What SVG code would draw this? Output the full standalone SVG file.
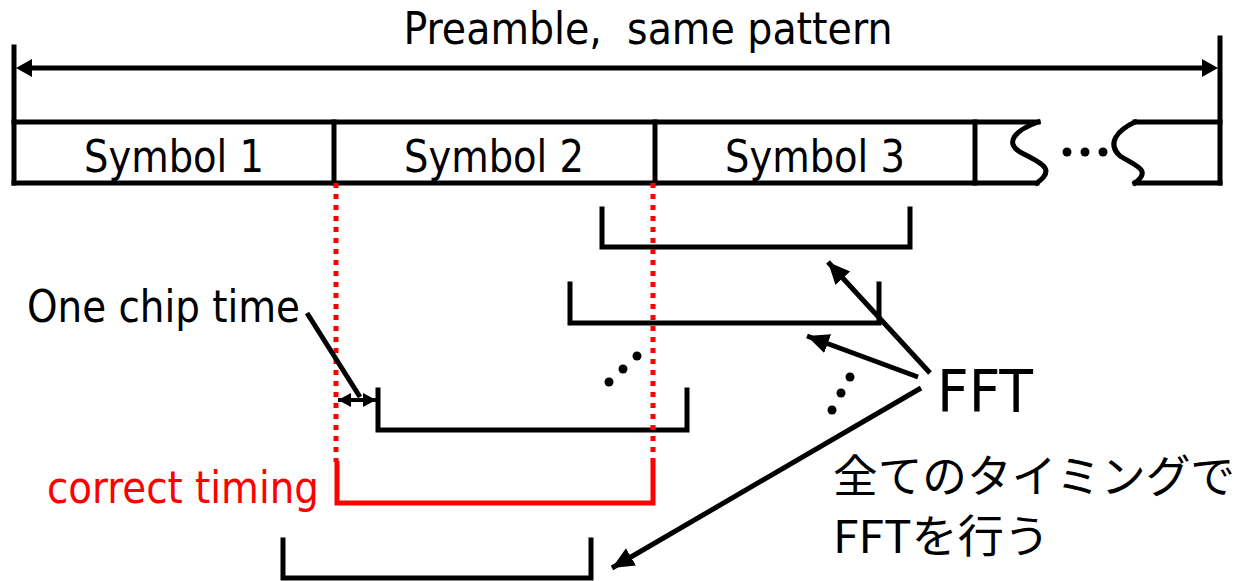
<svg xmlns="http://www.w3.org/2000/svg" width="1247" height="581" viewBox="0 0 1247 581">
  <style>
    .ln { fill: none; stroke: #000; stroke-width: 5; stroke-linecap: square; stroke-linejoin: miter; }
    .red { fill: none; stroke: #ff0000; stroke-width: 5; }
    .dot { fill: none; stroke: #ff0000; stroke-width: 5; stroke-dasharray: 5 6; }
    .txt { font-family: "DejaVu Sans Condensed", "DejaVu Sans", "Noto Sans CJK JP", sans-serif; font-stretch: condensed; fill: #000; }
    .jp { font-family: "Noto Sans CJK JP", "Noto Sans CJK SC", sans-serif; fill: #000; }
  </style>
  <defs>
    <marker id="headBig" markerUnits="userSpaceOnUse" markerWidth="26" markerHeight="22" refX="22" refY="10" orient="auto">
      <path d="M0,0 L22,10 L0,20 Z" fill="#000"/>
    </marker>
    <marker id="headSmall" markerUnits="userSpaceOnUse" markerWidth="16" markerHeight="16" refX="13" refY="7" orient="auto-start-reverse">
      <path d="M0,0 L13,7 L0,14 Z" fill="#000"/>
    </marker>
  </defs>

  <!-- preamble span -->
  <g id="preamble">
    <line class="ln" x1="14" y1="47" x2="14" y2="183" stroke-linecap="butt"/>
    <line class="ln" x1="1220" y1="38" x2="1220" y2="183" stroke-linecap="butt"/>
    <line x1="30" y1="68" x2="1204" y2="68" stroke="#000" stroke-width="5"/>
    <path d="M16,68 L32,59 L32,77 Z" fill="#000"/>
    <path d="M1218,68 L1202,59 L1202,77 Z" fill="#000"/>
    <text class="txt" x="648" y="44" font-size="45" text-anchor="middle" textLength="489" lengthAdjust="spacingAndGlyphs">Preamble,&#160; same pattern</text>
  </g>

  <!-- symbol row -->
  <g id="symbols">
    <path class="ln" d="M14,122 H1038 M14,183 H1037" stroke-linecap="butt"/>
    <path class="ln" d="M1135,122 H1220 M1135,183 H1220" stroke-linecap="butt"/>
    <line class="ln" x1="334" y1="122" x2="334" y2="183" stroke-linecap="butt"/>
    <line class="ln" x1="655" y1="122" x2="655" y2="183" stroke-linecap="butt"/>
    <line class="ln" x1="975" y1="122" x2="975" y2="183" stroke-linecap="butt"/>
    <path class="ln" d="M1038,122 C1016,130 1004,142 1020,152 C1038,162 1058,168 1037,183" stroke-linecap="butt"/>
    <path class="ln" d="M1135,122 C1118,130 1106,143 1120,156 C1136,166 1152,170 1135,183" stroke-linecap="butt"/>
    <circle cx="1067" cy="152" r="4.5"/>
    <circle cx="1085" cy="152" r="4.5"/>
    <circle cx="1103" cy="152" r="4.5"/>
    <text class="txt" x="174" y="172" font-size="44" text-anchor="middle" textLength="180" lengthAdjust="spacingAndGlyphs">Symbol 1</text>
    <text class="txt" x="494" y="172" font-size="44" text-anchor="middle" textLength="180" lengthAdjust="spacingAndGlyphs">Symbol 2</text>
    <text class="txt" x="815" y="172" font-size="44" text-anchor="middle" textLength="180" lengthAdjust="spacingAndGlyphs">Symbol 3</text>
  </g>

  <!-- FFT windows -->
  <g id="window1"><path class="ln" d="M602,209 V247 H910 V209"/></g>
  <g id="window2"><path class="ln" d="M570,284 V323 H879 V284"/></g>
  <g id="window3"><path class="ln" d="M378,390 V430 H687 V390"/></g>
  <g id="window4"><path class="ln" d="M283,540 V578 H591 V540"/></g>

  <!-- correct timing window -->
  <g id="correct">
    <line class="dot" x1="336" y1="183" x2="336" y2="462"/>
    <line class="dot" x1="653" y1="183" x2="653" y2="462"/>
    <path class="red" d="M337,461 V503 H653 V461"/>
    <text x="47" y="503" font-size="44" fill="#ff0000" font-family="DejaVu Sans Condensed, DejaVu Sans, sans-serif" font-stretch="condensed" textLength="272" lengthAdjust="spacingAndGlyphs">correct timing</text>
  </g>

  <!-- ellipsis dots -->
  <g id="ellipses">
    <circle cx="609" cy="382" r="4.5"/>
    <circle cx="623" cy="369" r="4.5"/>
    <circle cx="637" cy="356" r="4.5"/>
    <circle cx="832" cy="410" r="4.5"/>
    <circle cx="841" cy="393" r="4.5"/>
    <circle cx="850" cy="377" r="4.5"/>
  </g>

  <!-- labels -->
  <g id="chip-label">
    <text class="txt" x="27" y="322" font-size="44" textLength="273" lengthAdjust="spacingAndGlyphs">One chip time</text>
  </g>
  <g id="fft-label">
    <text class="txt" x="937" y="412" font-size="58" textLength="96" lengthAdjust="spacingAndGlyphs">FFT</text>
    <text class="jp" x="833" y="493" font-size="45" textLength="402" lengthAdjust="spacingAndGlyphs">全てのタイミングで</text>
    <text class="jp" x="833" y="553" font-size="45" textLength="217" lengthAdjust="spacingAndGlyphs">FFTを行う</text>
  </g>

  <!-- connectors -->
  <g id="connectors" fill="none" stroke="#000">
    <line x1="307" y1="313" x2="360" y2="397" stroke-width="5"/>
    <line x1="338" y1="400" x2="376" y2="400" stroke-width="4" marker-start="url(#headSmall)" marker-end="url(#headSmall)"/>
    <line x1="930" y1="373" x2="828" y2="262" stroke-width="5" marker-end="url(#headBig)"/>
    <line x1="918" y1="377" x2="807" y2="336" stroke-width="5" marker-end="url(#headBig)"/>
    <line x1="921" y1="388" x2="612" y2="568" stroke-width="5" marker-end="url(#headBig)"/>
  </g>
</svg>
